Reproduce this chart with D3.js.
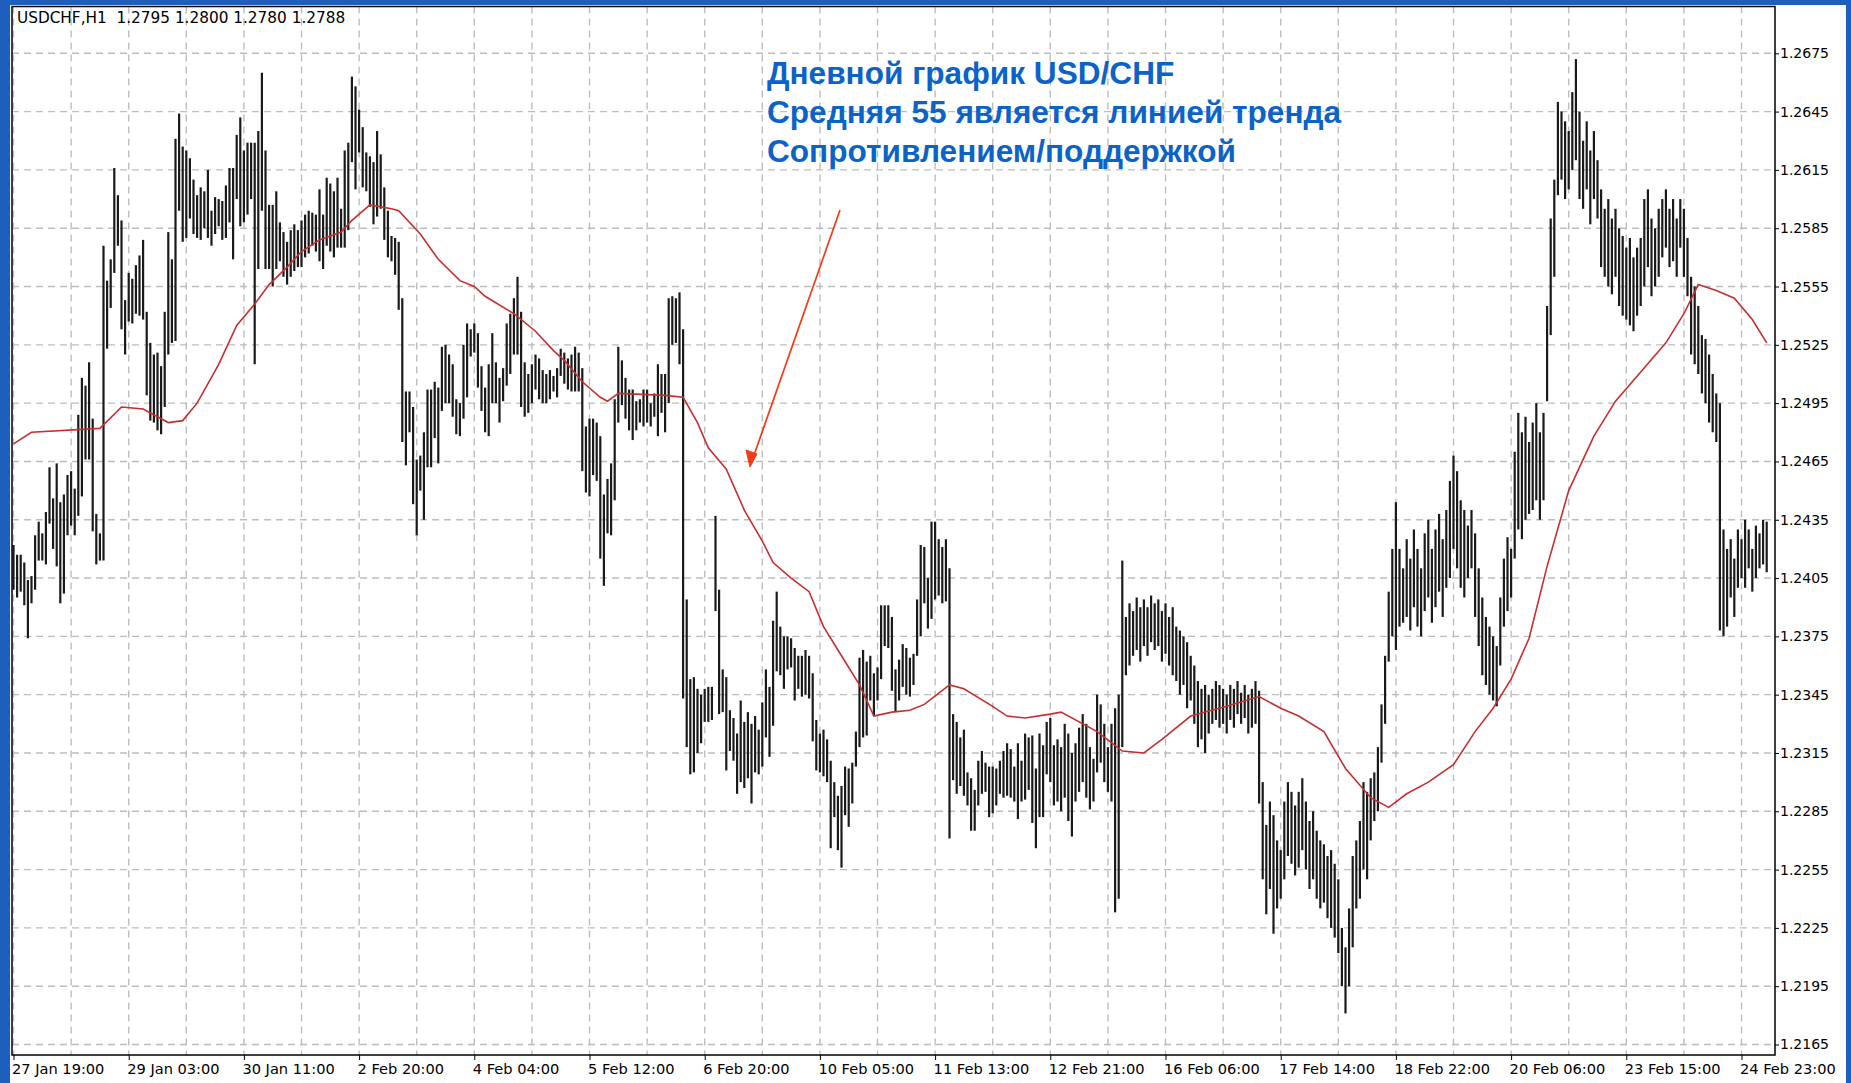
<!DOCTYPE html>
<html>
<head>
<meta charset="utf-8">
<script src="https://cdn.jsdelivr.net/npm/d3@7"></script>
<style>
  html, body { margin: 0; padding: 0; background: #1e5fbe; }
  svg { display: block; }
</style>
</head>
<body>
<div id="chart"></div>
<script>
// hourly bars (high / low per bar)
const highs = [
  1.2422,1.2417,1.2417,1.2413,1.2404,1.2406,1.2427,1.2434,1.2428,1.2439,
  1.2462,1.2446,1.2464,1.2444,1.2448,1.2458,1.2460,1.2451,1.2489,1.2508,
  1.2504,1.2516,1.2487,1.2438,1.2428,1.2576,1.2558,1.2569,1.2616,1.2602,
  1.2589,1.2548,1.2562,1.2559,1.2566,1.2571,1.2579,1.2542,1.2526,1.2520,
  1.2521,1.2514,1.2542,1.2583,1.2569,1.2631,1.2644,1.2627,1.2625,1.2621,
  1.2610,1.2602,1.2606,1.2604,1.2615,1.2594,1.2601,1.2600,1.2599,1.2607,
  1.2616,1.2616,1.2633,1.2642,1.2625,1.2629,1.2629,1.2629,1.2635,1.2665,
  1.2625,1.2597,1.2597,1.2604,1.2588,1.2583,1.2578,1.2584,1.2587,1.2584,
  1.2589,1.2592,1.2594,1.2593,1.2592,1.2605,1.2592,1.2611,1.2608,1.2604,
  1.2611,1.2595,1.2625,1.2629,1.2663,1.2658,1.2646,1.2637,1.2624,1.2622,
  1.2619,1.2635,1.2623,1.2606,1.2594,1.2581,1.2580,1.2578,1.2549,1.2501,
  1.2501,1.2493,1.2466,1.2468,1.2480,1.2502,1.2502,1.2506,1.2503,1.2524,
  1.2525,1.2520,1.2515,1.2497,1.2495,1.2525,1.2536,1.2533,1.2536,1.2531,
  1.2514,1.2503,1.2515,1.2531,1.2516,1.2508,1.2513,1.2536,1.2541,1.2549,
  1.2560,1.2542,1.2516,1.2510,1.2515,1.2520,1.2518,1.2512,1.2510,1.2512,
  1.2509,1.2513,1.2523,1.2521,1.2518,1.2520,1.2524,1.2521,1.2513,1.2483,
  1.2487,1.2487,1.2485,1.2478,1.2448,1.2456,1.2464,1.2497,1.2524,1.2517,
  1.2508,1.2502,1.2502,1.2496,1.2497,1.2502,1.2502,1.2495,1.2500,1.2515,
  1.2510,1.2510,1.2549,1.2550,1.2549,1.2552,1.2533,1.2394,1.2353,1.2354,
  1.2348,1.2345,1.2348,1.2349,1.2349,1.2437,1.2399,1.2358,1.2354,1.2337,
  1.2333,1.2325,1.2342,1.2331,1.2336,1.2330,1.2334,1.2327,1.2341,1.2358,
  1.2349,1.2383,1.2398,1.2380,1.2375,1.2375,1.2374,1.2369,1.2365,1.2365,
  1.2368,1.2365,1.2356,1.2332,1.2325,1.2327,1.2322,1.2311,1.2300,1.2293,
  1.2298,1.2308,1.2307,1.2310,1.2326,1.2364,1.2368,1.2362,1.2365,1.2356,
  1.2359,1.2391,1.2391,1.2391,1.2385,1.2358,1.2363,1.2371,1.2369,1.2364,
  1.2366,1.2394,1.2422,1.2421,1.2405,1.2434,1.2434,1.2425,1.2421,1.2425,
  1.2410,1.2335,1.2331,1.2323,1.2327,1.2305,1.2302,1.2296,1.2311,1.2316,
  1.2310,1.2308,1.2308,1.2307,1.2311,1.2316,1.2320,1.2317,1.2308,1.2320,
  1.2311,1.2325,1.2323,1.2324,1.2307,1.2325,1.2319,1.2331,1.2333,1.2319,
  1.2322,1.2318,1.2330,1.2325,1.2315,1.2320,1.2328,1.2335,1.2330,1.2318,
  1.2312,1.2345,1.2340,1.2330,1.2318,1.2330,1.2338,1.2345,1.2414,1.2385,
  1.2392,1.2388,1.2395,1.2390,1.2394,1.2390,1.2396,1.2392,1.2394,1.2388,
  1.2392,1.2385,1.2390,1.2380,1.2378,1.2375,1.2372,1.2365,1.2360,1.2352,
  1.2348,1.2350,1.2345,1.2348,1.2352,1.2350,1.2348,1.2345,1.2350,1.2348,
  1.2352,1.2346,1.2350,1.2345,1.2348,1.2352,1.2347,1.2300,1.2278,1.2290,
  1.2283,1.2270,1.2265,1.2290,1.2300,1.2295,1.2288,1.2295,1.2302,1.2290,
  1.2280,1.2285,1.2275,1.2270,1.2268,1.2262,1.2265,1.2258,1.2250,1.2225,
  1.2215,1.2235,1.2262,1.2270,1.2280,1.2300,1.2295,1.2302,1.2305,1.2318,
  1.2340,1.2365,1.2398,1.2420,1.2444,1.2420,1.2410,1.2425,1.2415,1.2430,
  1.2420,1.2410,1.2428,1.2435,1.2420,1.2430,1.2438,1.2425,1.2440,1.2455,
  1.2468,1.2460,1.2445,1.2440,1.2432,1.2440,1.2428,1.2410,1.2395,1.2385,
  1.2380,1.2375,1.2370,1.2395,1.2415,1.2426,1.2420,1.2470,1.2490,1.2480,
  1.2488,1.2475,1.2485,1.2495,1.2480,1.2490,1.2545,1.2590,1.2610,1.2650,
  1.2645,1.2640,1.2635,1.2655,1.2672,1.2645,1.2630,1.2640,1.2625,1.2635,
  1.2620,1.2605,1.2595,1.2600,1.2590,1.2595,1.2585,1.2581,1.2575,1.2580,
  1.2570,1.2575,1.2580,1.2600,1.2605,1.2590,1.2585,1.2595,1.2600,1.2605,
  1.2595,1.2600,1.2590,1.2600,1.2595,1.2580,1.2560,1.2555,1.2545,1.2530,
  1.2528,1.2520,1.2510,1.2500,1.2495,1.2430,1.2420,1.2425,1.2415,1.2430,
  1.2425,1.2435,1.2430,1.2420,1.2432,1.2428,1.2435,1.2434
];
const lows = [
  1.2399,1.2395,1.2398,1.2391,1.2374,1.2392,1.2399,1.2414,1.2414,1.2412,
  1.2433,1.2420,1.2411,1.2392,1.2397,1.2427,1.2432,1.2427,1.2437,1.2447,
  1.2466,1.2466,1.2429,1.2412,1.2414,1.2414,1.2523,1.2544,1.2562,1.2576,
  1.2533,1.2520,1.2537,1.2536,1.2541,1.2540,1.2538,1.2499,1.2486,1.2485,
  1.2481,1.2479,1.2493,1.2520,1.2526,1.2527,1.2594,1.2578,1.2580,1.2590,
  1.2582,1.2580,1.2579,1.2585,1.2580,1.2576,1.2582,1.2586,1.2579,1.2580,
  1.2588,1.2569,1.2600,1.2586,1.2588,1.2592,1.2600,1.2515,1.2564,1.2594,
  1.2564,1.2564,1.2555,1.2564,1.2568,1.2560,1.2556,1.2560,1.2563,1.2565,
  1.2565,1.2570,1.2572,1.2576,1.2573,1.2568,1.2564,1.2576,1.2573,1.2570,
  1.2575,1.2575,1.2575,1.2584,1.2619,1.2605,1.2624,1.2606,1.2604,1.2596,
  1.2587,1.2591,1.2595,1.2579,1.2570,1.2568,1.2561,1.2543,1.2475,1.2463,
  1.2480,1.2443,1.2427,1.2450,1.2435,1.2462,1.2462,1.2477,1.2464,1.2491,
  1.2495,1.2495,1.2488,1.2479,1.2478,1.2487,1.2498,1.2519,1.2521,1.2503,
  1.2491,1.2480,1.2478,1.2495,1.2495,1.2485,1.2496,1.2504,1.2510,1.2520,
  1.2520,1.2493,1.2488,1.2490,1.2495,1.2502,1.2497,1.2495,1.2495,1.2497,
  1.2501,1.2498,1.2509,1.2505,1.2502,1.2501,1.2501,1.2501,1.2460,1.2449,
  1.2447,1.2458,1.2455,1.2415,1.2401,1.2428,1.2427,1.2445,1.2485,1.2494,
  1.2487,1.2481,1.2476,1.2481,1.2485,1.2483,1.2485,1.2483,1.2488,1.2478,
  1.2490,1.2480,1.2495,1.2525,1.2526,1.2515,1.2343,1.2318,1.2304,1.2305,
  1.2315,1.2320,1.2331,1.2331,1.2332,1.2388,1.2335,1.2336,1.2306,1.2316,
  1.2311,1.2294,1.2300,1.2297,1.2302,1.2289,1.2305,1.2304,1.2308,1.2323,
  1.2313,1.2329,1.2357,1.2355,1.2348,1.2358,1.2359,1.2342,1.2348,1.2344,
  1.2345,1.2343,1.2321,1.2306,1.2305,1.2303,1.2300,1.2266,1.2282,1.2265,
  1.2256,1.2283,1.2277,1.2289,1.2308,1.2318,1.2323,1.2324,1.2342,1.2334,
  1.2342,1.2353,1.2370,1.2369,1.2347,1.2336,1.2342,1.2349,1.2345,1.2344,
  1.2350,1.2365,1.2375,1.2392,1.2379,1.2384,1.2394,1.2396,1.2392,1.2393,
  1.2271,1.2301,1.2294,1.2298,1.2293,1.2288,1.2275,1.2275,1.2288,1.2294,
  1.2295,1.2282,1.2284,1.2288,1.2294,1.2292,1.2293,1.2292,1.2290,1.2281,
  1.2290,1.2291,1.2296,1.2279,1.2266,1.2282,1.2282,1.2304,1.2300,1.2288,
  1.2290,1.2285,1.2292,1.2280,1.2272,1.2290,1.2295,1.2300,1.2292,1.2286,
  1.2290,1.2305,1.2310,1.2300,1.2295,1.2290,1.2233,1.2240,1.2318,1.2355,
  1.2360,1.2365,1.2368,1.2362,1.2370,1.2365,1.2372,1.2368,1.2370,1.2362,
  1.2366,1.2360,1.2355,1.2352,1.2345,1.2350,1.2338,1.2342,1.2330,1.2318,
  1.2322,1.2315,1.2325,1.2330,1.2332,1.2328,1.2330,1.2325,1.2332,1.2328,
  1.2335,1.2330,1.2333,1.2325,1.2328,1.2330,1.2289,1.2250,1.2232,1.2245,
  1.2222,1.2235,1.2240,1.2250,1.2262,1.2258,1.2252,1.2256,1.2265,1.2255,
  1.2245,1.2250,1.2240,1.2235,1.2238,1.2230,1.2225,1.2220,1.2212,1.2195,
  1.2181,1.2195,1.2215,1.2235,1.2240,1.2255,1.2250,1.2270,1.2280,1.2285,
  1.2310,1.2330,1.2362,1.2375,1.2368,1.2380,1.2382,1.2385,1.2378,1.2390,
  1.2380,1.2375,1.2388,1.2395,1.2382,1.2390,1.2398,1.2385,1.2400,1.2405,
  1.2420,1.2410,1.2400,1.2395,1.2405,1.2410,1.2385,1.2370,1.2355,1.2350,
  1.2345,1.2342,1.2339,1.2360,1.2380,1.2388,1.2395,1.2415,1.2430,1.2425,
  1.2435,1.2438,1.2440,1.2445,1.2435,1.2445,1.2496,1.2530,1.2560,1.2602,
  1.2610,1.2600,1.2605,1.2615,1.2620,1.2600,1.2595,1.2605,1.2587,1.2600,
  1.2590,1.2565,1.2560,1.2555,1.2551,1.2560,1.2545,1.2540,1.2538,1.2535,
  1.2532,1.2540,1.2545,1.2555,1.2565,1.2550,1.2555,1.2560,1.2570,1.2575,
  1.2565,1.2568,1.2560,1.2575,1.2560,1.2550,1.2520,1.2515,1.2510,1.2500,
  1.2495,1.2485,1.2480,1.2475,1.2378,1.2375,1.2380,1.2395,1.2385,1.2400,
  1.2405,1.2400,1.2410,1.2398,1.2405,1.2410,1.2412,1.2408
];

// moving average 55, read at these bar positions
const maBars = [0,5,24,30,36,43,47,51,57,62,67,71,76,80,85,91,94,99,105,107,
  113,118,124,128,131,139,145,150,153,158,163,165,168,181,186,190,193,198,203,208,
  211,216,221,225,230,235,239,244,249,253,260,264,272,276,281,288,291,301,308,314,
  319,327,337,346,352,357,364,370,377,382,387,393,400,406,411,416,421,426,432,439,
  445,452,459,464,468,473,478,483,487];
const maValues = [1.2474,1.2480,1.2482,1.2493,1.2492,1.2485,1.2486,1.2495,1.2515,1.2535,
  1.2546,1.2556,1.2565,1.2573,1.2579,1.2583,1.2589,1.2597,1.2595,1.2594,
  1.2582,1.2569,1.2558,1.2555,1.2550,1.2541,1.2532,1.2522,1.2517,1.2506,
  1.2498,1.2496,1.2500,1.2499,1.2498,1.2485,1.2472,1.2461,1.2440,1.2424,
  1.2413,1.2405,1.2398,1.2380,1.2365,1.2350,1.2334,1.2336,1.2337,1.2340,
  1.2350,1.2348,1.2339,1.2334,1.2333,1.2335,1.2336,1.2326,1.2316,1.2315,
  1.2322,1.2334,1.2339,1.2344,1.2338,1.2334,1.2326,1.2307,1.2292,1.2287,
  1.2294,1.2300,1.2309,1.2326,1.2338,1.2353,1.2374,1.2411,1.2450,1.2478,
  1.2496,1.2511,1.2526,1.2541,1.2556,1.2553,1.2549,1.2538,1.2526];

const priceTicks = [1.2165,1.2195,1.2225,1.2255,1.2285,1.2315,1.2345,1.2375,1.2405,
  1.2435,1.2465,1.2495,1.2525,1.2555,1.2585,1.2615,1.2645,1.2675];
const timeLabels = ['27 Jan 19:00','29 Jan 03:00','30 Jan 11:00','2 Feb 20:00','4 Feb 04:00',
  '5 Feb 12:00','6 Feb 20:00','10 Feb 05:00','11 Feb 13:00','12 Feb 21:00','16 Feb 06:00',
  '17 Feb 14:00','18 Feb 22:00','20 Feb 06:00','23 Feb 15:00','24 Feb 23:00'];
const headerText = 'USDCHF,H1  1.2795 1.2800 1.2780 1.2788';
const noteLines = ['Дневной график USD/CHF', 'Средняя 55 является линией тренда', 'Сопротивлением/поддержкой'];

const width = 1851, height = 1083;
const plot = { left: 12, right: 1775, top: 6.5, bottom: 1055 };

const svg = d3.select('#chart').append('svg')
  .attr('width', width).attr('height', height);

// white panel inside the blue slide
svg.append('rect')
  .attr('x', 10).attr('y', 5).attr('width', 1836).attr('height', height - 5)
  .attr('fill', '#fff');

const x = d3.scaleLinear().domain([0, 480]).range([13.5, 1741.5]);
const y = d3.scaleLinear().domain([1.2165, 1.2675]).range([1044.5, 53.3]);

// grid
const grid = svg.append('g')
  .attr('stroke', '#bdbdbd').attr('stroke-width', 1.4).attr('stroke-dasharray', '7,5');
grid.selectAll('line.h').data(priceTicks).enter().append('line')
  .attr('x1', plot.left).attr('x2', plot.right)
  .attr('y1', d => y(d)).attr('y2', d => y(d));
grid.selectAll('line.v').data(d3.range(0, 481, 16)).enter().append('line')
  .attr('x1', d => x(d)).attr('x2', d => x(d))
  .attr('y1', plot.top).attr('y2', plot.bottom);

// bars
svg.append('g')
  .attr('stroke', '#1a1a1a').attr('stroke-width', 2.2)
  .selectAll('line').data(highs).enter().append('line')
  .attr('x1', (d, i) => x(i)).attr('x2', (d, i) => x(i))
  .attr('y1', d => y(d)).attr('y2', (d, i) => y(lows[i]));

// moving average
const maLine = d3.line().x(d => x(d[0])).y(d => y(d[1]));
svg.append('path')
  .datum(maBars.map((b, i) => [b, maValues[i]]))
  .attr('fill', 'none').attr('stroke', '#c62f2f').attr('stroke-width', 1.6)
  .attr('d', maLine);

// frame
svg.append('rect')
  .attr('x', plot.left).attr('y', plot.top)
  .attr('width', plot.right - plot.left).attr('height', plot.bottom - plot.top)
  .attr('fill', 'none').attr('stroke', '#000').attr('stroke-width', 1.5);

// axes
const yAxis = svg.append('g')
  .attr('transform', `translate(${plot.right},0)`)
  .call(d3.axisRight(y).tickValues(priceTicks).tickSize(4).tickFormat(d3.format('.4f')));
yAxis.select('.domain').remove();
yAxis.selectAll('text').attr('x', 5)
  .attr('font-family', 'DejaVu Sans').attr('font-size', 14).attr('fill', '#000');

const xAxis = svg.append('g')
  .attr('transform', `translate(0,${plot.bottom})`)
  .call(d3.axisBottom(x).tickValues(d3.range(0, 481, 32)).tickSize(5)
    .tickFormat((d, i) => timeLabels[i]));
xAxis.select('.domain').remove();
xAxis.selectAll('text').attr('text-anchor', 'start').attr('x', -2).attr('y', 9)
  .attr('font-family', 'DejaVu Sans').attr('font-size', 14.6).attr('fill', '#000');

// header
svg.append('text')
  .attr('x', 17).attr('y', 23)
  .attr('font-family', 'DejaVu Sans').attr('font-size', 15.3)
  .style('white-space', 'pre')
  .text(headerText);

// note
svg.append('g')
  .attr('font-family', 'Liberation Sans, Arial, sans-serif').attr('font-weight', 'bold')
  .attr('font-size', 31.6).attr('fill', '#0b63c8')
  .selectAll('text').data(noteLines).enter().append('text')
  .attr('x', 767).attr('y', (d, i) => 84 + i * 39)
  .text(d => d);

// arrow
const arrow = svg.append('g').attr('stroke', '#f23c18').attr('fill', '#f23c18');
arrow.append('line')
  .attr('x1', 840).attr('y1', 210).attr('x2', 753).attr('y2', 458)
  .attr('stroke-width', 1.7);
arrow.append('path')
  .attr('d', 'M750,467 L746,450 L757,454 Z').attr('stroke-width', 1);
</script>
</body>
</html>
